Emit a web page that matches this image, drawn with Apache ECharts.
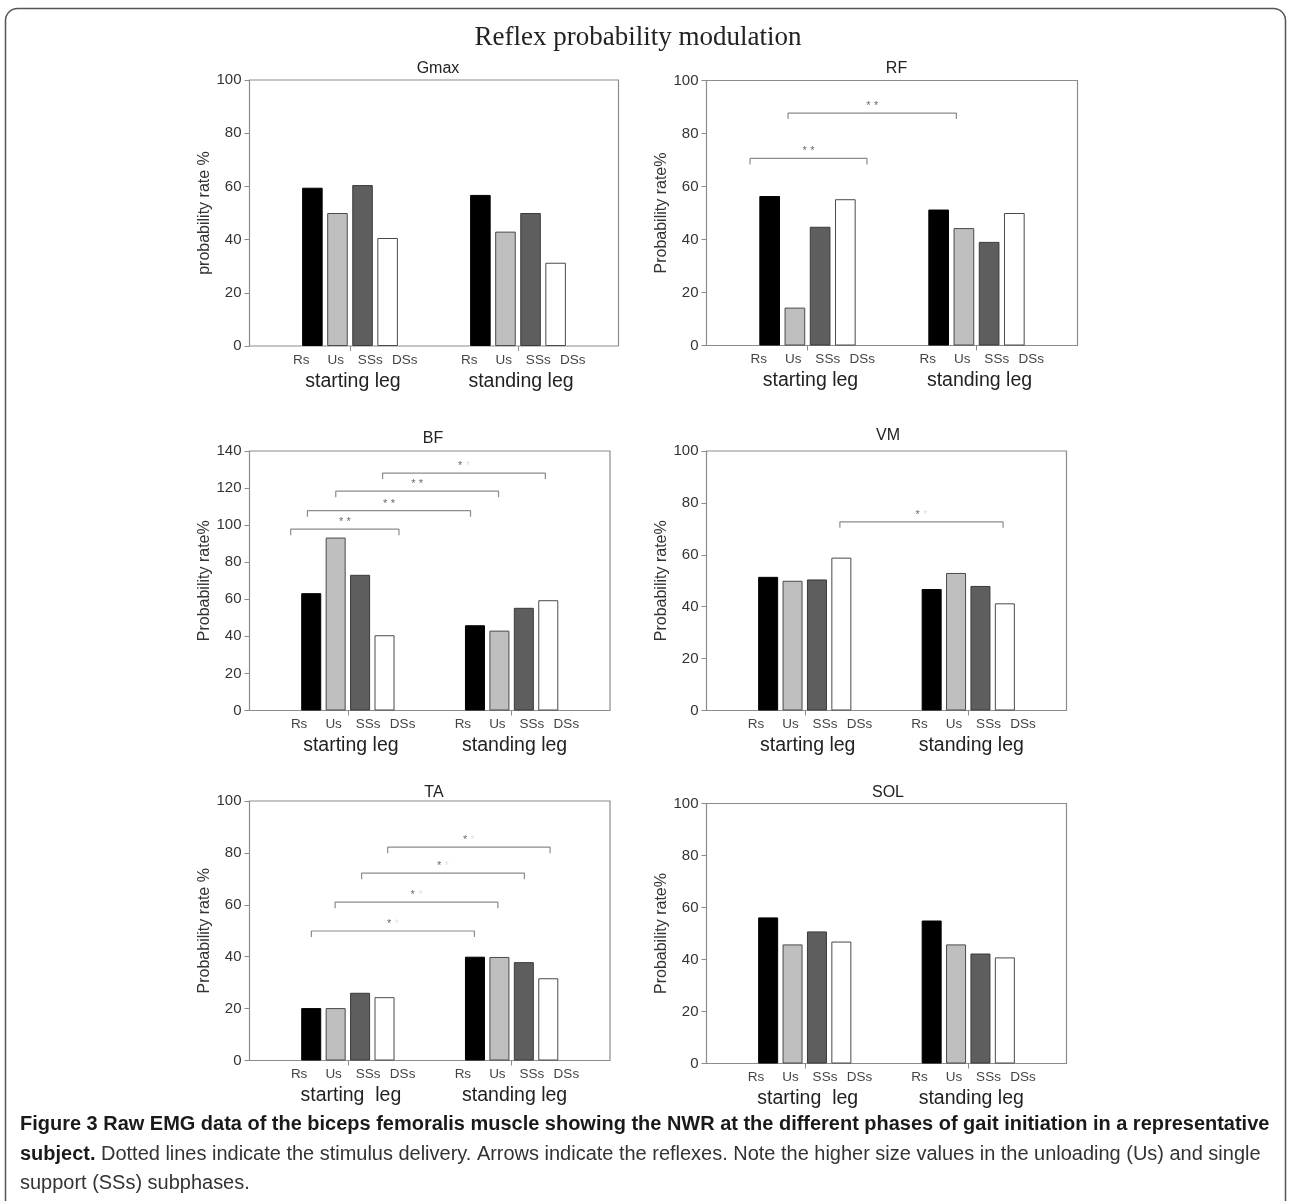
<!DOCTYPE html>
<html><head><meta charset="utf-8">
<script src="https://cdn.jsdelivr.net/npm/echarts@6/dist/echarts.min.js"></script>
<style>html,body{margin:0;padding:0;background:#fff}#c{width:1290px;height:1201px}</style>
</head><body><div id="c"></div>
<script>
// ---------- data ----------
const phases = ['Rs', 'Us', 'SSs', 'DSs'];
const legGroups = ['starting leg', 'standing leg'];
const legGroupsWide = ['starting  leg', 'standing leg'];
const muscles = ['Gmax', 'RF', 'BF', 'VM', 'TA', 'SOL'];
const yNames = ['probability rate %', 'Probability rate%', 'Probability rate%', 'Probability rate%', 'Probability rate %', 'Probability rate%'];
const yMaxes = [100, 100, 140, 100, 100, 100];
const yStep = 20;

// values per phase [Rs, Us, SSs, DSs]
const gmaxStarting = [59.5, 50, 60.5, 40.6];
const gmaxStanding = [56.8, 43, 50, 31.3];
const rfStarting = [56.4, 14.3, 44.8, 55.2];
const rfStanding = [51.3, 44.3, 39.1, 50];
const bfStarting = [63.3, 93.3, 73.2, 40.6];
const bfStanding = [46, 43.1, 55.4, 59.5];
const vmStarting = [51.5, 50, 50.5, 58.9];
const vmStanding = [46.8, 53, 48, 41.3];
const taStarting = [20.2, 20.2, 26.1, 24.4];
const taStanding = [40, 39.9, 37.9, 31.7];
const solStarting = [56.2, 45.8, 50.8, 46.9];
const solStanding = [55, 45.8, 42.3, 40.8];

// significance brackets: [from (group units), to (group units), level, stars]
const gmaxBrackets = [];
const rfBrackets = [[-0.34, 0.352, 70.6, 2], [-0.115, 0.881, 87.7, 2]];
const bfBrackets = [[-0.349, 0.312, 97.8, 2], [-0.247, 0.749, 107.8, 2], [-0.074, 0.92, 118.3, 2], [0.212, 1.206, 128.1, 1]];
const vmBrackets = [[0.215, 1.213, 72.7, 1]];
const taBrackets = [[-0.223, 0.773, 49.9, 1], [-0.078, 0.916, 61, 1], [0.084, 1.078, 72.2, 1], [0.243, 1.235, 82.2, 1]];
const solBrackets = [];

const caption1 = 'Figure 3 Raw EMG data of the biceps femoralis muscle showing the NWR at the different phases of gait initiation in a representative';
const caption2b = 'subject.';
const caption2 = ' Dotted lines indicate the stimulus delivery. Arrows indicate the reflexes. Note the higher size values in the unloading (Us) and single';
const caption3 = 'support (SSs) subphases.';
const mainTitle = 'Reflex probability modulation';

// ---------- layout / style ----------
const FONT = '"Liberation Sans", Arial, sans-serif';
const phaseColors = ['#000000', '#bfbfbf', '#5e5e5e', '#ffffff'];
const phaseBorders = ['#000000', '#4a4a4a', '#3a3a3a', '#4a4a4a'];
const panels = [
  {starting: gmaxStarting, standing: gmaxStanding, brackets: gmaxBrackets, groups: legGroups, box: [249.5, 80, 369, 266], title: [433, 56]},
  {starting: rfStarting, standing: rfStanding, brackets: rfBrackets, groups: legGroups, box: [706.5, 80.5, 371, 265], title: [891.5, 56]},
  {starting: bfStarting, standing: bfStanding, brackets: bfBrackets, groups: legGroups, box: [249.5, 451, 360.5, 259.5], title: [428, 426]},
  {starting: vmStarting, standing: vmStanding, brackets: vmBrackets, groups: legGroups, box: [706.5, 451, 360, 259.5], title: [883, 423]},
  {starting: taStarting, standing: taStanding, brackets: taBrackets, groups: legGroupsWide, box: [249.5, 801, 360.5, 259.5], title: [429, 780]},
  {starting: solStarting, standing: solStanding, brackets: solBrackets, groups: legGroupsWide, box: [706.5, 803.5, 360, 260], title: [883, 780]}
];

const option = {
  animation: false,
  backgroundColor: '#ffffff',
  textStyle: {fontFamily: FONT},
  grid: [], xAxis: [], yAxis: [], series: [], title: [], graphic: []
};

panels.forEach((p, i) => {
  const [l, t, w, h] = p.box;
  const ins = 16.5;
  const yMax = yMaxes[i];
  option.grid.push({left: l, top: t, width: w, height: h, show: true, borderColor: '#8c8c8c', borderWidth: 1.2, backgroundColor: 'transparent'});
  option.grid.push({left: l + ins, top: t, width: w - 2 * ins, height: h});
  option.xAxis.push({gridIndex: 2 * i, type: 'value', min: 0, max: 1, show: false});
  option.xAxis.push({
    gridIndex: 2 * i + 1, type: 'category', data: p.groups, position: 'bottom',
    axisLine: {show: false},
    axisTick: {show: true, alignWithLabel: true, length: 5, lineStyle: {color: '#8c8c8c'}},
    axisLabel: {
      interval: 0, margin: 4,
      formatter: (v) => '{p| }' + phases.map(x => '{s|' + x + '}').join('') + '\n{p| }{g|' + v + '}',
      rich: {
        p: {width: 6, fontSize: 13, lineHeight: 20},
        s: {width: 34.5, align: 'center', fontSize: 13.5, color: '#444', lineHeight: 20, fontFamily: FONT},
        g: {fontSize: 19.5, color: '#222', lineHeight: 23, fontFamily: FONT}
      }
    }
  });
  option.xAxis.push({gridIndex: 2 * i + 1, type: 'value', min: -0.5, max: 1.5, show: false});
  option.yAxis.push({
    gridIndex: 2 * i, type: 'value', min: 0, max: yMax, interval: yStep,
    name: yNames[i], nameLocation: 'middle', nameGap: 34,
    nameTextStyle: {fontSize: 16, color: '#333', fontFamily: FONT},
    axisLine: {show: false},
    axisTick: {show: true, length: 5, lineStyle: {color: '#8c8c8c'}},
    axisLabel: {fontSize: 15, color: '#333', margin: 8, fontFamily: FONT},
    splitLine: {show: false}
  });
  option.yAxis.push({gridIndex: 2 * i + 1, type: 'value', min: 0, max: yMax, show: false});

  phases.forEach((ph, k) => {
    option.series.push({
      type: 'bar', name: ph, xAxisIndex: 3 * i + 1, yAxisIndex: 2 * i + 1,
      data: [p.starting[k], p.standing[k]],
      barGap: '22%', barCategoryGap: '43%', silent: true,
      itemStyle: {color: phaseColors[k], borderColor: phaseBorders[k], borderWidth: 1}
    });
  });

  const drop = 6 * yMax / h;
  p.brackets.forEach(b => {
    const [x1, x2, y, stars] = b;
    option.series.push({
      type: 'line', xAxisIndex: 3 * i + 2, yAxisIndex: 2 * i + 1, silent: true,
      symbol: 'none', lineStyle: {color: '#8c8c8c', width: 1.2},
      data: [[x1, y - drop], [x1, y], [x2, y], [x2, y - drop]]
    });
    option.series.push({
      type: 'scatter', xAxisIndex: 3 * i + 2, yAxisIndex: 2 * i + 1, silent: true,
      symbolSize: 0, data: [[(x1 + x2) / 2, y]],
      label: {
        show: true, position: 'top', distance: 1,
        formatter: stars === 2 ? '{d|*} {d|*}' : '{d|*} {f|*}',
        rich: {d: {fontSize: 11, color: '#444'}, f: {fontSize: 11, color: '#dcdcdc'}}
      }
    });
  });

  option.title.push({
    text: muscles[i], left: p.title[0], top: p.title[1], textAlign: 'center',
    textStyle: {fontSize: 16, fontWeight: 'normal', color: '#222', fontFamily: FONT}
  });
});

// caption font fitting (line 1 spans ~1250px in the reference)
const CAP_FONT = '"Liberation Sans Narrow", "Liberation Sans", Arial, sans-serif';
let capSize = 20;
try {
  const ctx = document.createElement('canvas').getContext('2d');
  ctx.font = 'bold 20px ' + CAP_FONT;
  const wd = ctx.measureText(caption1).width;
  capSize = Math.max(12, Math.min(22, 20 * 1250 / wd));
} catch (e) {}

option.graphic = [
  {type: 'rect', silent: true, shape: {x: 5.5, y: 8.5, width: 1280, height: 1260, r: 12},
   style: {fill: 'none', stroke: '#555', lineWidth: 1.5}},
  {type: 'text', silent: true, x: 638, y: 38,
   style: {text: mainTitle, fontSize: 27, fontFamily: '"Liberation Serif", "Times New Roman", serif', fill: '#222', align: 'center', verticalAlign: 'middle'}},
  {type: 'text', silent: true, x: 20, y: 1110,
   style: {
     text: '{b|' + caption1 + '}\n{b|' + caption2b + '}{r|' + caption2 + '}\n{r|' + caption3 + '}',
     lineHeight: 29.5, fontSize: capSize, fontFamily: CAP_FONT,
     rich: {
       b: {fontWeight: 'bold', fontSize: capSize, fontFamily: CAP_FONT, fill: '#1a1a1a', color: '#1a1a1a', lineHeight: 29.5},
       r: {fontWeight: 'normal', fontSize: capSize, fontFamily: CAP_FONT, fill: '#333', color: '#333', lineHeight: 29.5}
     }
   }}
];

const chart = echarts.init(document.getElementById('c'), null, {renderer: 'canvas'});
chart.setOption(option);
</script>
</body></html>
